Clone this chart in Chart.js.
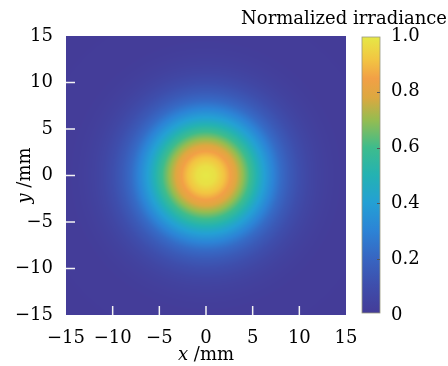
<!DOCTYPE html>
<html>
<head>
<meta charset="utf-8">
<script src="https://cdn.jsdelivr.net/npm/chart.js@4.4.1/dist/chart.umd.min.js"></script>
<style>
html, body { margin: 0; padding: 0; background: #fff; }
#wrap { width: 448px; height: 366px; }
</style>
</head>
<body>
<div id="wrap"><canvas id="irr"></canvas></div>
<script>
// radial profile of the beam (mm -> normalized irradiance)
var profileRadius = [0, 1, 2, 3, 4, 5, 6, 7, 8, 9, 10, 11, 12, 13, 14, 15, 22];
var profileValue  = [1.00, 0.98, 0.91, 0.81, 0.69, 0.56, 0.43, 0.32, 0.22, 0.15, 0.10, 0.06, 0.035, 0.02, 0.01, 0.005, 0];
var beamCenter = [0, 0];

var xTicks = [-15, -10, -5, 0, 5, 10, 15];
var yTicks = [-15, -10, -5, 0, 5, 10, 15];
var cbTicks = [0, 0.2, 0.4, 0.6, 0.8, 1.0];
var cbTitle = 'Normalized irradiance';

// parula-like colour map as printed
var cmap = [
    [0.00, [68, 60, 152]],
    [0.10, [62, 78, 172]],
    [0.20, [55, 102, 194]],
    [0.30, [44, 132, 214]],
    [0.40, [36, 160, 212]],
    [0.50, [36, 178, 178]],
    [0.60, [62, 188, 140]],
    [0.70, [150, 188, 80]],
    [0.78, [220, 168, 64]],
    [0.85, [242, 160, 70]],
    [0.92, [242, 198, 66]],
    [1.00, [230, 232, 70]]
];

var FONT = '"DejaVu Serif", serif';
var FSIZE = 18;

function colorAt(v) {
    if (v <= 0) return cmap[0][1];
    for (var i = 1; i < cmap.length; i++) {
        if (v <= cmap[i][0]) {
            var a = cmap[i - 1], b = cmap[i];
            var t = (v - a[0]) / (b[0] - a[0]);
            return [0, 1, 2].map(function (k) { return a[1][k] + (b[1][k] - a[1][k]) * t; });
        }
    }
    return cmap[cmap.length - 1][1];
}

function irradianceAt(r) {
    for (var i = 1; i < profileRadius.length; i++) {
        if (r <= profileRadius[i]) {
            var t = (r - profileRadius[i - 1]) / (profileRadius[i] - profileRadius[i - 1]);
            return profileValue[i - 1] + (profileValue[i] - profileValue[i - 1]) * t;
        }
    }
    return profileValue[profileValue.length - 1];
}

function minus(v) { return String(v).replace('-', '\u2212'); }

var heatmap = {
    id: 'heatmap',
    beforeDatasetsDraw: function (chart) {
        var ctx = chart.ctx, area = chart.chartArea;
        var xs = chart.scales.x, ys = chart.scales.y, cb = chart.scales.cb;
        var w = Math.round(area.right - area.left), h = Math.round(area.bottom - area.top);
        var off = document.createElement('canvas');
        off.width = w; off.height = h;
        var octx = off.getContext('2d');
        var img = octx.createImageData(w, h);
        for (var j = 0; j < h; j++) {
            var yv = ys.getValueForPixel(area.top + j + 0.5) - beamCenter[1];
            for (var i = 0; i < w; i++) {
                var xv = xs.getValueForPixel(area.left + i + 0.5) - beamCenter[0];
                var c = colorAt(irradianceAt(Math.sqrt(xv * xv + yv * yv)));
                var p = (j * w + i) * 4;
                img.data[p] = c[0]; img.data[p + 1] = c[1]; img.data[p + 2] = c[2]; img.data[p + 3] = 255;
            }
        }
        octx.putImageData(img, 0, 0);
        ctx.drawImage(off, area.left, area.top);

        // colour bar
        var bx = cb.left + 16, bw = 18;
        var top = cb.getPixelForValue(1) + 1, bot = cb.getPixelForValue(0) - 2;
        var g = ctx.createLinearGradient(0, bot, 0, top);
        cmap.forEach(function (s) { g.addColorStop(s[0], 'rgb(' + s[1].map(Math.round).join(',') + ')'); });
        ctx.save();
        ctx.fillStyle = g;
        ctx.fillRect(bx, top, bw, bot - top);
        ctx.strokeStyle = '#9a9a80';
        ctx.lineWidth = 0.8;
        ctx.strokeRect(bx, top, bw, bot - top);
        ctx.strokeStyle = '#555';
        ctx.lineWidth = 1;
        cbTicks.forEach(function (v) {
            if (v === 0 || v === 1) return;
            var py = Math.round(cb.getPixelForValue(v)) + 0.5;
            ctx.beginPath(); ctx.moveTo(bx + bw - 3, py); ctx.lineTo(bx + bw, py); ctx.stroke();
        });
        ctx.restore();
    },
    afterDraw: function (chart) {
        var ctx = chart.ctx, area = chart.chartArea;
        var xs = chart.scales.x, ys = chart.scales.y;
        ctx.save();
        // white inner ticks
        ctx.strokeStyle = '#f4f4f4';
        ctx.lineWidth = 1.5;
        xTicks.forEach(function (v) {
            if (v <= -15 || v >= 15) return;
            var px = xs.getPixelForValue(v);
            ctx.beginPath(); ctx.moveTo(px, area.bottom); ctx.lineTo(px, area.bottom - 9); ctx.stroke();
        });
        yTicks.forEach(function (v) {
            if (v <= -15 || v >= 15) return;
            var py = ys.getPixelForValue(v);
            ctx.beginPath(); ctx.moveTo(area.left, py); ctx.lineTo(area.left + 9, py); ctx.stroke();
        });

        // axis titles with italic variable
        ctx.fillStyle = '#000';
        ctx.textBaseline = 'alphabetic';
        function mixed(varName, unit, x, y) {
            ctx.font = 'italic ' + FSIZE + 'px ' + FONT;
            var w1 = ctx.measureText(varName).width;
            ctx.font = FSIZE + 'px ' + FONT;
            var w2 = ctx.measureText(unit).width;
            var sx = x - (w1 + w2) / 2;
            ctx.font = 'italic ' + FSIZE + 'px ' + FONT;
            ctx.textAlign = 'left';
            ctx.fillText(varName, sx, y);
            ctx.font = FSIZE + 'px ' + FONT;
            ctx.fillText(unit, sx + w1, y);
        }
        mixed('x', ' /mm', (area.left + area.right) / 2, 360);
        ctx.save();
        ctx.translate(30, (area.top + area.bottom) / 2);
        ctx.rotate(-Math.PI / 2);
        mixed('y', ' /mm', 0, 0);
        ctx.restore();

        // colour bar title
        ctx.font = FSIZE + 'px ' + FONT;
        ctx.textAlign = 'right';
        ctx.fillText(cbTitle, 447, 24);
        ctx.restore();
    }
};

function setTicks(list) {
    return function (scale) { scale.ticks = list.map(function (v) { return { value: v }; }); };
}

function fixSize(w, h) {
    return function (s) {
        if (w) s.width = w;
        if (h) s.height = h;
        s.paddingTop = 0; s.paddingBottom = 0; s.paddingLeft = 0; s.paddingRight = 0;
    };
}

var tickFont = { family: FONT, size: FSIZE };

new Chart(document.getElementById('irr').getContext('2d'), {
    type: 'scatter',
    data: { datasets: [] },
    options: {
        responsive: true,
        maintainAspectRatio: false,
        animation: false,
        layout: { padding: { top: 36, left: 0, right: 0, bottom: 0 } },
        plugins: { legend: { display: false }, tooltip: { enabled: false } },
        scales: {
            x: {
                type: 'linear', position: 'bottom', min: -15, max: 15,
                afterBuildTicks: setTicks(xTicks),
                afterFit: fixSize(0, 51),
                grid: { display: false }, border: { display: false },
                ticks: { font: tickFont, color: '#000', padding: 5, maxRotation: 0, callback: minus }
            },
            y: {
                type: 'linear', position: 'left', min: -15, max: 15,
                afterBuildTicks: setTicks(yTicks),
                afterFit: fixSize(66, 0),
                grid: { display: false }, border: { display: false },
                ticks: { font: tickFont, color: '#000', padding: 5, callback: minus }
            },
            cb: {
                type: 'linear', position: 'right', min: 0, max: 1,
                afterBuildTicks: setTicks(cbTicks),
                afterFit: fixSize(102, 0),
                grid: { display: false }, border: { display: false },
                ticks: {
                    font: tickFont, color: '#000', padding: 37,
                    callback: function (v) { return v === 0 ? '0' : v.toFixed(1); }
                }
            }
        }
    },
    plugins: [heatmap]
});
</script>
</body>
</html>
